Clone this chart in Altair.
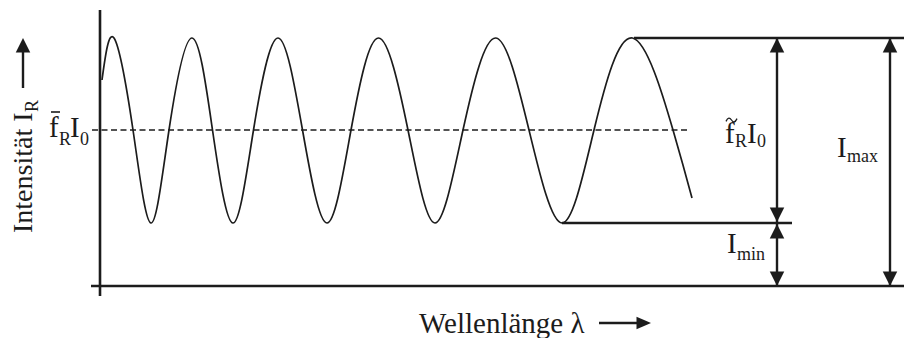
import altair as alt
import pandas as pd

# ---- chart values -------------------------------------------------------
# wavelength positions (lambda) and reflected intensity along the fringe curve
wave_lambda = [102, 114, 133, 151, 169, 192, 212.5, 233, 253.5, 278, 302.5, 327,
               351, 378.5, 408, 435, 463, 495.5, 529, 562, 594, 632.5, 673, 692]
wave_intensity = [206, 248, 156, 63, 156, 248, 156, 63, 156, 248, 156, 63,
                  156, 248, 156, 63, 156, 248, 156, 63, 156, 248, 156, 88]

I_MAX = 248      # upper envelope
I_MIN = 63       # lower envelope
I_MEAN = 156     # mean reflectance  f_R * I_0
I_ZERO = 0       # wavelength axis

LAMBDA_AXIS = 100          # intensity axis position
LAMBDA_END = 904
MEAN_LINE = [92, 688]      # extent of dashed mean line
MAX_LINE = [634, 904]      # extent of I_max reference line
MIN_LINE = [562, 792]      # extent of I_min reference line
ARROW_A = 777              # arrows for f~R I0 and I_min
ARROW_B = 890              # arrow for I_max

X_DOMAIN = [0, 904]
Y_DOMAIN = [-52, 286]

FONT = "Liberation Serif"
INK = "#1c1c1c"

xs = alt.Scale(domain=X_DOMAIN, nice=False, zero=False)
ys = alt.Scale(domain=Y_DOMAIN, nice=False, zero=False)


def X(field):
    return alt.X(field, type="quantitative", scale=xs, axis=None)


def Y(field):
    return alt.Y(field, type="quantitative", scale=ys, axis=None)


# ---- fringe curve ---------------------------------------------------------
wave_df = pd.DataFrame({"lam": wave_lambda, "inten": wave_intensity})
wave = alt.Chart(wave_df).mark_line(
    interpolate="natural", color=INK, strokeWidth=1.7
).encode(x=X("lam"), y=Y("inten"), order="lam:Q")

# ---- dashed mean line -----------------------------------------------------
mean_df = pd.DataFrame({"a": [MEAN_LINE[0]], "b": [MEAN_LINE[1]], "y": [I_MEAN]})
mean_line = alt.Chart(mean_df).mark_rule(
    color=INK, strokeWidth=1.5, strokeDash=[6, 3.5]
).encode(x=X("a"), x2="b", y=Y("y"))

# ---- axes and horizontal reference lines ----------------------------------
hlines_df = pd.DataFrame({
    "a": [91, MAX_LINE[0], MIN_LINE[0]],
    "b": [LAMBDA_END, MAX_LINE[1], MIN_LINE[1]],
    "y": [I_ZERO, I_MAX, I_MIN],
})
hlines = alt.Chart(hlines_df).mark_rule(color=INK, strokeWidth=2.6).encode(
    x=X("a"), x2="b", y=Y("y"))

vaxis_df = pd.DataFrame({"x": [LAMBDA_AXIS], "a": [-10], "b": [276]})
vaxis = alt.Chart(vaxis_df).mark_rule(color=INK, strokeWidth=2.6).encode(
    x=X("x"), y=Y("a"), y2="b")

# ---- double-headed dimension arrows ----------------------------------------
shafts_df = pd.DataFrame({
    "x": [ARROW_A, ARROW_A, ARROW_B],
    "lo": [I_MIN, I_ZERO, I_ZERO],
    "hi": [I_MAX, I_MIN, I_MAX],
})
shafts = alt.Chart(shafts_df).mark_rule(color=INK, strokeWidth=2.4).encode(
    x=X("x"), y=Y("lo"), y2="hi")

# arrowhead outlines, tip at the anchor point
UP = "M0,0L-1,2L1,2Z"
DOWN = "M0,0L-1,-2L1,-2Z"
RIGHT = "M0,0L-2,-0.85L-2,0.85Z"
TILDE = "M-1,0.25C-0.65,-0.55 -0.3,-0.45 0,0 C0.3,0.45 0.65,0.55 1,-0.25"

ups_df = pd.DataFrame({"x": [ARROW_A, ARROW_A, ARROW_B, 23],
                       "y": [I_MAX, I_MIN - 1, I_MAX, 248]})
downs_df = pd.DataFrame({"x": [ARROW_A, ARROW_A, ARROW_B],
                         "y": [I_MIN + 1, I_ZERO, I_ZERO]})

heads_up = alt.Chart(ups_df).mark_point(
    shape=UP, size=210, filled=True, color=INK, opacity=1, strokeWidth=0
).encode(x=X("x"), y=Y("y"))
heads_down = alt.Chart(downs_df).mark_point(
    shape=DOWN, size=210, filled=True, color=INK, opacity=1, strokeWidth=0
).encode(x=X("x"), y=Y("y"))

# arrow next to the intensity title
yarrow_df = pd.DataFrame({"x": [23], "a": [198], "b": [236]})
yarrow = alt.Chart(yarrow_df).mark_rule(color=INK, strokeWidth=2.4).encode(
    x=X("x"), y=Y("a"), y2="b")

# arrow next to the wavelength title
xarrow_df = pd.DataFrame({"a": [599], "b": [640], "y": [-37]})
xarrow = alt.Chart(xarrow_df).mark_rule(color=INK, strokeWidth=2.4).encode(
    x=X("a"), x2="b", y=Y("y"))
xhead_df = pd.DataFrame({"x": [651], "y": [-37]})
xhead = alt.Chart(xhead_df).mark_point(
    shape=RIGHT, size=210, filled=True, color=INK, opacity=1, strokeWidth=0
).encode(x=X("x"), y=Y("y"))

# ---- labels ---------------------------------------------------------------
main_df = pd.DataFrame({
    "x": [49, 70, 725, 747, 837, 727, 419],
    "y": [149, 149, 143, 143, 129, 33, -47],
    "t": ["f", "I", "f", "I", "I", "I", "Wellenlänge λ"],
})
sub_df = pd.DataFrame({
    "x": [59, 80, 735, 757, 847, 737],
    "y": [141, 141, 139, 139, 124, 26],
    "t": ["R", "0", "R", "0", "max", "min"],
})
main_text = alt.Chart(main_df).mark_text(
    align="left", baseline="alphabetic", font=FONT, fontSize=29, color=INK
).encode(x=X("x"), y=Y("y"), text="t:N")
sub_text = alt.Chart(sub_df).mark_text(
    align="left", baseline="alphabetic", font=FONT, fontSize=18, color=INK
).encode(x=X("x"), y=Y("y"), text="t:N")

# overbar (mean) and tilde accents on f
bar_df = pd.DataFrame({"a": [51], "b": [60], "y": [174]})
overbar = alt.Chart(bar_df).mark_rule(color=INK, strokeWidth=1.6).encode(
    x=X("a"), x2="b", y=Y("y"))
tilde_df = pd.DataFrame({"x": [731.5], "y": [166]})
tilde = alt.Chart(tilde_df).mark_point(
    shape=TILDE, size=121, filled=False, color=INK, opacity=1, strokeWidth=1.3
).encode(x=X("x"), y=Y("y"))

# rotated intensity title
ytitle_df = pd.DataFrame({"x": [32], "y": [53], "t": ["Intensität I"]})
ytitle = alt.Chart(ytitle_df).mark_text(
    align="left", baseline="alphabetic", font=FONT, fontSize=28, angle=270, color=INK
).encode(x=X("x"), y=Y("y"), text="t:N")
ysub_df = pd.DataFrame({"x": [38], "y": [174], "t": ["R"]})
ysub = alt.Chart(ysub_df).mark_text(
    align="left", baseline="alphabetic", font=FONT, fontSize=18, angle=270, color=INK
).encode(x=X("x"), y=Y("y"), text="t:N")

chart = alt.layer(
    mean_line, wave, hlines, vaxis, shafts, heads_up, heads_down,
    yarrow, xarrow, xhead, main_text, sub_text, overbar, tilde, ytitle, ysub,
).properties(
    width=904, height=338, padding=0, autosize=alt.AutoSizeParams(type="none"),
    background="white",
).configure_view(stroke=None)

chart.save("out.html", embed_options={"renderer": "svg", "actions": False})
